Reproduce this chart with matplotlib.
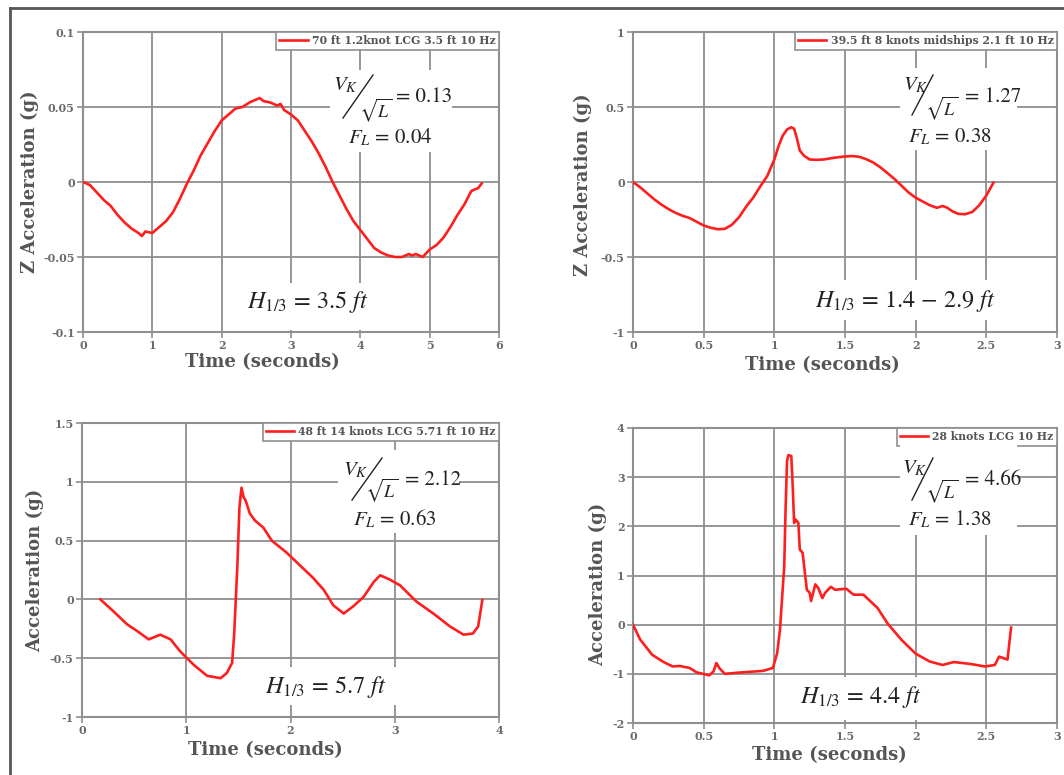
import matplotlib
matplotlib.use("Agg")
import matplotlib.pyplot as plt
from matplotlib.lines import Line2D
from matplotlib.patches import Rectangle
from matplotlib.font_manager import FontProperties

# ---------------- data ----------------
t1 = [0.0, 0.1, 0.2, 0.3, 0.4, 0.5, 0.6, 0.7, 0.8, 0.85, 0.9, 1.0, 1.1, 1.2, 1.3, 1.4, 1.5,
      1.6, 1.7, 1.8, 1.9, 2.0, 2.1, 2.2, 2.3, 2.4, 2.5, 2.55, 2.6, 2.7, 2.8, 2.85, 2.9, 3.0,
      3.1, 3.2, 3.3, 3.4, 3.5, 3.6, 3.7, 3.8, 3.9, 4.0, 4.1, 4.2, 4.3, 4.4, 4.5, 4.6, 4.7,
      4.75, 4.8, 4.9, 5.0, 5.1, 5.2, 5.3, 5.4, 5.5, 5.6, 5.7, 5.75]
a1 = [0.000, -0.002, -0.007, -0.012, -0.016, -0.022, -0.027, -0.031, -0.034, -0.036, -0.033,
      -0.034, -0.030, -0.026, -0.020, -0.011, -0.001, 0.008, 0.018, 0.026, 0.034, 0.041,
      0.045, 0.049, 0.050, 0.053, 0.055, 0.056, 0.054, 0.053, 0.051, 0.052, 0.048, 0.045,
      0.041, 0.034, 0.027, 0.019, 0.010, 0.000, -0.009, -0.018, -0.026, -0.032, -0.038,
      -0.044, -0.047, -0.049, -0.050, -0.050, -0.048, -0.049, -0.048, -0.050, -0.045,
      -0.042, -0.037, -0.030, -0.022, -0.015, -0.006, -0.004, -0.001]

t2 = [0.00, 0.05, 0.10, 0.15, 0.20, 0.25, 0.30, 0.35, 0.40, 0.45, 0.50, 0.55, 0.60, 0.65,
      0.70, 0.75, 0.80, 0.85, 0.90, 0.95, 1.00, 1.03, 1.06, 1.09, 1.12, 1.14, 1.16, 1.18,
      1.21, 1.25, 1.30, 1.35, 1.40, 1.45, 1.50, 1.55, 1.60, 1.65, 1.70, 1.75, 1.80, 1.85,
      1.90, 1.95, 2.00, 2.05, 2.10, 2.15, 2.19, 2.22, 2.26, 2.30, 2.35, 2.40, 2.45, 2.50, 2.55]
a2 = [0.000, -0.035, -0.075, -0.115, -0.150, -0.180, -0.205, -0.225, -0.240, -0.265, -0.290,
      -0.305, -0.315, -0.312, -0.285, -0.235, -0.165, -0.105, -0.030, 0.040, 0.150, 0.240,
      0.310, 0.350, 0.365, 0.355, 0.290, 0.210, 0.175, 0.150, 0.148, 0.150, 0.158, 0.165,
      0.170, 0.173, 0.168, 0.152, 0.130, 0.098, 0.060, 0.020, -0.025, -0.070, -0.105, -0.130,
      -0.155, -0.172, -0.160, -0.170, -0.195, -0.212, -0.215, -0.200, -0.155, -0.090, -0.005]

t3 = [0.176, 0.30, 0.43, 0.53, 0.64, 0.75, 0.85, 0.94, 1.07, 1.20, 1.33, 1.39, 1.44, 1.46,
      1.49, 1.51, 1.53, 1.55, 1.57, 1.61, 1.66, 1.74, 1.82, 1.96, 2.09, 2.22, 2.32, 2.41,
      2.51, 2.60, 2.70, 2.80, 2.86, 2.95, 3.05, 3.21, 3.37, 3.53, 3.66, 3.75, 3.80, 3.84]
a3 = [0.00, -0.10, -0.21, -0.27, -0.34, -0.30, -0.34, -0.44, -0.555, -0.65, -0.67, -0.625,
      -0.54, -0.29, 0.28, 0.78, 0.95, 0.87, 0.84, 0.73, 0.67, 0.61, 0.50, 0.40, 0.29, 0.18,
      0.08, -0.05, -0.12, -0.06, 0.02, 0.15, 0.205, 0.17, 0.12, -0.02, -0.12, -0.23, -0.30,
      -0.29, -0.23, -0.005]

t4 = [0.00, 0.05, 0.135, 0.21, 0.28, 0.33, 0.40, 0.45, 0.54, 0.57, 0.59, 0.61, 0.65, 0.77,
      0.92, 0.99, 1.02, 1.04, 1.07, 1.08, 1.09, 1.10, 1.12, 1.13, 1.14, 1.15, 1.17, 1.18,
      1.20, 1.23, 1.25, 1.26, 1.29, 1.31, 1.34, 1.36, 1.40, 1.43, 1.51, 1.56, 1.63, 1.73,
      1.80, 1.90, 2.00, 2.10, 2.19, 2.27, 2.39, 2.49, 2.56, 2.59, 2.62, 2.65, 2.66, 2.675]
a4 = [0.00, -0.30, -0.61, -0.75, -0.85, -0.84, -0.88, -0.97, -1.03, -0.95, -0.78, -0.88,
      -1.00, -0.97, -0.94, -0.88, -0.58, -0.10, 1.19, 2.40, 3.33, 3.45, 3.43, 2.82, 2.07,
      2.14, 2.07, 1.53, 1.46, 0.71, 0.65, 0.48, 0.82, 0.75, 0.54, 0.65, 0.77, 0.71, 0.73,
      0.61, 0.61, 0.34, 0.03, -0.31, -0.59, -0.75, -0.82, -0.76, -0.80, -0.85, -0.82, -0.65,
      -0.68, -0.71, -0.44, -0.06]

legend_labels = ["70 ft 1.2knot LCG 3.5 ft 10 Hz",
                 "39.5 ft 8 knots midships 2.1 ft 10 Hz",
                 "48 ft 14 knots LCG 5.71 ft 10 Hz",
                 "28 knots LCG 10 Hz"]
ylabels = ["Z Acceleration (g)", "Z Acceleration (g)", "Acceleration (g)", "Acceleration (g)"]
xlabel = "Time (seconds)"
vk_values = ["0.13", "1.27", "2.12", "4.66"]
fl_values = ["0.04", "0.38", "0.63", "1.38"]
h13_values = ["3.5", "1.4 \u2212 2.9", "5.7", "4.4"]

xticks = [[0, 1, 2, 3, 4, 5, 6], [0, 0.5, 1, 1.5, 2, 2.5, 3],
          [0, 1, 2, 3, 4], [0, 0.5, 1, 1.5, 2, 2.5, 3]]
xticklabels = [["0", "1", "2", "3", "4", "5", "6"], ["0", "0.5", "1", "1.5", "2", "2.5", "3"],
               ["0", "1", "2", "3", "4"], ["0", "0.5", "1", "1.5", "2", "2.5", "3"]]
yticks = [[-0.1, -0.05, 0, 0.05, 0.1], [-1, -0.5, 0, 0.5, 1],
          [-1, -0.5, 0, 0.5, 1, 1.5], [-2, -1, 0, 1, 2, 3, 4]]
yticklabels = [["-0.1", "-0.05", "0", "0.05", "0.1"], ["-1", "-0.5", "0", "0.5", "1"],
               ["-1", "-0.5", "0", "0.5", "1", "1.5"], ["-2", "-1", "0", "1", "2", "3", "4"]]

# ---------------- figure ----------------
plt.rcParams['mathtext.fontset'] = 'stix'
W, H = 1064, 775
fig = plt.figure(figsize=(W / 100, H / 100), dpi=100)
fig.patch.set_facecolor('white')


def rect(l, t, r, b):
    return [l / W, 1 - b / H, (r - l) / W, (b - t) / H]


def fx(x):
    return x / W


def fy(y):
    return 1 - y / H


GRAY = '#8f8f8f'
tickfont = FontProperties(family='DejaVu Serif', weight='bold', size=8)
labfont = FontProperties(family='DejaVu Serif', weight='bold', size=13)
legfont = FontProperties(family='DejaVu Serif', weight='bold', size=7.8)

axes_rects = [rect(83, 32, 499, 332), rect(633, 32, 1057, 332),
              rect(82, 423, 499, 717), rect(633, 428, 1057, 723)]
series = [(t1, a1), (t2, a2), (t3, a3), (t4, a4)]
ylab_coords = [(-0.127, 0.5), (-0.118, 0.49), (-0.113, 0.5), (-0.082, 0.47)]
xlab_coords = [(0.43, -0.1), (0.446, -0.11), (0.44, -0.112), (0.462, -0.108)]

for i in range(4):
    ax = fig.add_axes(axes_rects[i])
    t, a = series[i]
    ax.plot(t, a, color='#ff1e1e', lw=1.9, label=legend_labels[i], zorder=3)
    ax.set_xlim(xticks[i][0], xticks[i][-1])
    ax.set_ylim(yticks[i][0], yticks[i][-1])
    ax.set_xticks(xticks[i])
    ax.set_xticklabels(xticklabels[i], fontproperties=tickfont, color='#6a6a6a')
    ax.set_yticks(yticks[i])
    ax.set_yticklabels(yticklabels[i], fontproperties=tickfont, color='#6a6a6a')
    ax.tick_params(direction='out', length=4, width=1.2, color=GRAY, pad=2)
    ax.grid(True, color=GRAY, lw=1.3)
    for s in ax.spines.values():
        s.set_color(GRAY)
        s.set_linewidth(1.5)
    ax.set_xlabel(xlabel, fontproperties=labfont, color='#555555')
    ax.set_ylabel(ylabels[i], fontproperties=labfont, color='#555555')
    ax.xaxis.set_label_coords(*xlab_coords[i])
    ax.yaxis.set_label_coords(*ylab_coords[i])
    ax.xaxis.label.set_va('center')
    ax.yaxis.label.set_va('center')
    leg = ax.legend(loc='upper right', borderaxespad=0, fancybox=False, framealpha=1,
                    edgecolor=GRAY, prop=legfont, handlelength=2.6, handletextpad=0.4,
                    borderpad=0.3)
    leg.get_frame().set_linewidth(1.2)
    for txt in leg.get_texts():
        txt.set_color('#555555')

# ---------------- annotations ----------------
TXT = '#222222'
vk_layout = [
    dict(v=(333, 90), sl=(373, 75, 343, 118), sq=(359, 117), eq=(396, 102), fl=(348, 143),
         box=(330, 70, 452, 152), h=(247, 308), hbox=(235, 283, 395, 330)),
    dict(v=(903, 90), sl=(933, 75, 912, 115), sq=(925, 115), eq=(965, 102), fl=(908, 142),
         box=(900, 68, 1017, 150), h=(815, 307), hbox=(808, 280, 995, 320)),
    dict(v=(343, 475), sl=(382, 458, 352, 500), sq=(365, 497), eq=(405, 485), fl=(353, 525),
         box=(338, 450, 459, 533), h=(265, 693), hbox=(250, 667, 400, 705)),
    dict(v=(902, 473), sl=(933, 458, 912, 500), sq=(925, 498), eq=(965, 485), fl=(908, 525),
         box=(900, 445, 1017, 535), h=(800, 703), hbox=(790, 677, 925, 720)),
]

for i, L in enumerate(vk_layout):
    for (l, t, r, b) in (L['box'], L['hbox']):
        fig.add_artist(Rectangle((fx(l), fy(b)), (r - l) / W, (b - t) / H,
                                 transform=fig.transFigure, facecolor='white',
                                 edgecolor='none', zorder=5))
    fig.text(fx(L['v'][0]), fy(L['v'][1]), r'$V_K$', fontsize=15, color=TXT,
             ha='left', va='baseline', zorder=6)
    x1, y1, x2, y2 = L['sl']
    fig.add_artist(Line2D([fx(x1), fx(x2)], [fy(y1), fy(y2)], transform=fig.transFigure,
                          color=TXT, lw=1.0, zorder=6))
    fig.text(fx(L['sq'][0]), fy(L['sq'][1]), r'$\sqrt{L}$', fontsize=13, color=TXT,
             ha='left', va='baseline', zorder=6)
    fig.text(fx(L['eq'][0]), fy(L['eq'][1]), '= ' + vk_values[i], fontsize=15, color=TXT,
             family='STIXGeneral', ha='left', va='baseline', zorder=6)
    fig.text(fx(L['fl'][0]), fy(L['fl'][1]), r'$F_L$ = ' + fl_values[i], fontsize=15,
             color=TXT, family='STIXGeneral', ha='left', va='baseline', zorder=6)
    fig.text(fx(L['h'][0]), fy(L['h'][1]), r'$H_{1/3}$ = ' + h13_values[i] + r' $ft$',
             fontsize=17.5, color=TXT, family='STIXGeneral', ha='left', va='baseline',
             zorder=6)

# outer frame
fig.add_artist(Line2D([fx(10), fx(1064)], [fy(8), fy(8)], transform=fig.transFigure,
                      color='#555555', lw=2))
fig.add_artist(Line2D([fx(10), fx(10)], [fy(8), fy(775)], transform=fig.transFigure,
                      color='#555555', lw=2))

fig.savefig('out.png', dpi=100)
